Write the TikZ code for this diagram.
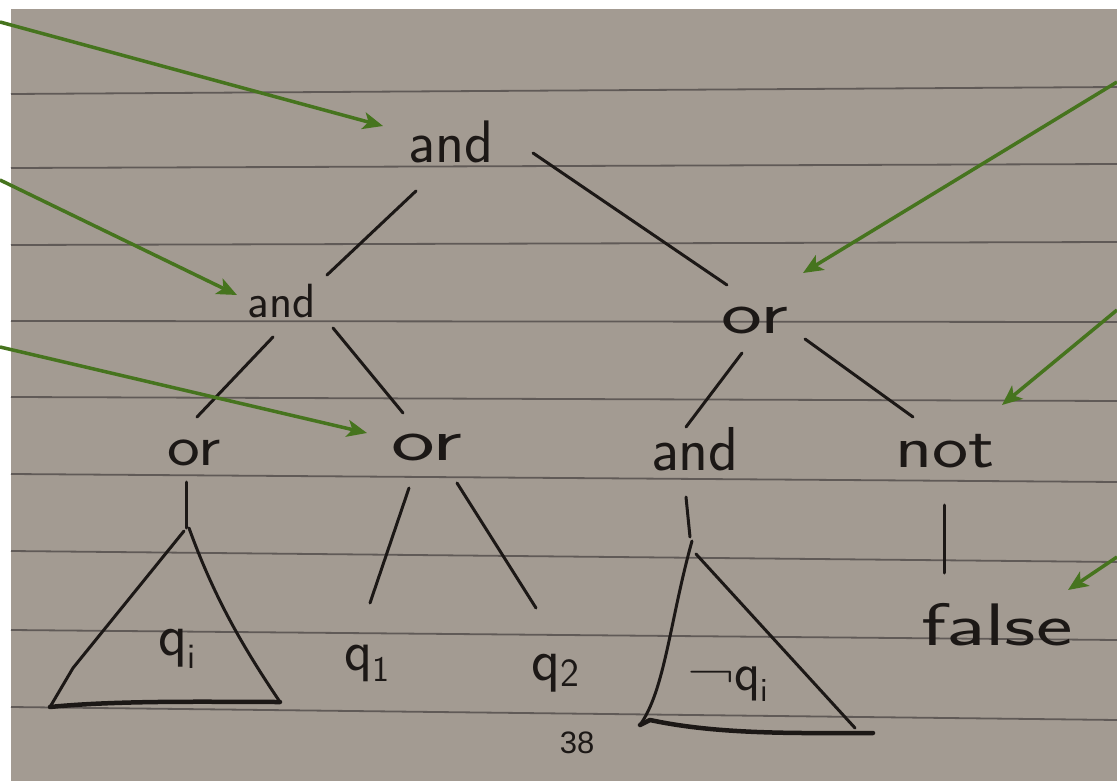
\documentclass[tikz,border=0pt]{standalone}
\usepackage{fontspec}
\usepackage{graphicx}
\newfontfamily\slidefont{Liberation Sans}
\usetikzlibrary{arrows.meta}
\definecolor{paper}{RGB}{163,155,146}
\definecolor{rulegray}{RGB}{96,90,87}
\definecolor{ink}{RGB}{28,24,22}
\definecolor{pointer}{RGB}{70,116,30}
\tikzset{
  ruled/.style={draw=rulegray, line width=1.8pt},
  inkline/.style={draw=ink, line width=3pt, line cap=round},
  thickink/.style={draw=ink, line width=4.5pt, line cap=round, line join=round},
  pointerarrow/.style={draw=pointer, line width=3.5pt, -{Stealth[length=20pt,width=17pt,inset=5pt]}},
  word/.style={text=ink, inner sep=0pt, anchor=base, font=\sffamily\fontsize{#1}{#1}\selectfont},
}
\newcommand{\wide}[2]{\scalebox{#1}[1]{#2}}
\newcommand{\subi}[1]{\raisebox{-0.22em}{\fontsize{#1}{#1}\selectfont i}}
\begin{document}
\begin{tikzpicture}[x=1pt,y=-1pt]
\useasboundingbox (0,0) rectangle (1117,781);
\fill[white] (0,0) rectangle (1117,781);
\fill[paper] (11,9) rectangle (1117,781);
% ruled lines
\foreach \l/\r in {94/87,168/164,245/242,321/322,397/401,474/482,551/562,630/640,707/720}
  \draw[ruled] (11,\l) -- (1117,\r);
% words
\node[word=60] (andTop) at (451,163) {and};
\node[word=48] (andL) at (282,317) {and};
\node[word=60] (orR) at (755,333) {\wide{1.45}{or}};
\node[word=58] (orLL) at (194,465) {\wide{1.2}{or}};
\node[word=60] (orLR) at (427,460) {\wide{1.55}{or}};
\node[word=62] (andRL) at (695,470) {and};
\node[word=60] (notRR) at (945,467) {\wide{1.28}{not}};
\node[word=60] (qi) at (177,655) {q\subi{36}};
\node[word=58] (qone) at (367,670) {q\raisebox{-0.2em}{\fontsize{36}{36}\selectfont 1}};
\node[word=60] (qtwo) at (555,680) {q\raisebox{-0.1em}{\fontsize{40}{40}\selectfont 2}};
\node[word=54] (nqi) at (728,690) {\wide{1.2}{¬}q\subi{34}};
\node[word=60] (false) at (997,645) {\wide{1.45}{false}};
\node[text=ink, inner sep=0pt, anchor=base, font=\slidefont\fontsize{31}{31}\selectfont] (page) at (577,753) {38};
% edge end points
\coordinate (e1a) at (416,191); \coordinate (e1b) at (327,275);
\coordinate (e2a) at (533,153); \coordinate (e2b) at (727,285);
\coordinate (e3a) at (273,337); \coordinate (e3b) at (197,417);
\coordinate (e4a) at (333,328); \coordinate (e4b) at (403,413);
\coordinate (e5a) at (742,353); \coordinate (e5b) at (686,427);
\coordinate (e6a) at (805,339); \coordinate (e6b) at (913,417);
\coordinate (e7a) at (186,482); \coordinate (e7b) at (186,528);
\coordinate (e8a) at (409,488); \coordinate (e8b) at (370,603);
\coordinate (e9a) at (457,483); \coordinate (e9b) at (536,608);
\coordinate (e10a) at (686,497); \coordinate (e10b) at (690,537);
\coordinate (e11a) at (944,505); \coordinate (e11b) at (944,573);
\foreach \e in {1,...,11} \draw[inkline] (e\e a) -- (e\e b);
% triangle q_i
\coordinate (t1apex) at (184,531);
\coordinate (t1kink) at (73,668);
\coordinate (t1left) at (50,707);
\coordinate (t1right) at (280,702);
\draw[inkline] (t1apex) -- (t1kink) -- (t1left);
\draw[inkline] (189,528) .. controls (215,600) and (245,650) .. (t1right);
\draw[thickink] (t1left) .. controls (120,700) and (220,702) .. (t1right);
% triangle not q_i
\coordinate (t2apex) at (692,541);
\coordinate (t2left) at (640,725);
\coordinate (t2right) at (873,733);
\draw[inkline] (t2apex) .. controls (670,620) and (665,690) .. (t2left);
\draw[inkline] (696,554) -- (855,728);
\draw[thickink] (t2left) -- (650,720) .. controls (720,735) and (800,733) .. (t2right);
% pointers
\coordinate (p1) at (0,22);   \coordinate (p1t) at (383,126);
\coordinate (p2) at (0,180);  \coordinate (p2t) at (237,295);
\coordinate (p3) at (0,347);  \coordinate (p3t) at (367,433);
\coordinate (p4) at (1117,82);  \coordinate (p4t) at (803,273);
\coordinate (p5) at (1117,310); \coordinate (p5t) at (1002,405);
\coordinate (p6) at (1117,557); \coordinate (p6t) at (1068,590);
\foreach \p in {1,...,6} \draw[pointerarrow] (p\p) -- (p\p t);
\end{tikzpicture}
\end{document}
